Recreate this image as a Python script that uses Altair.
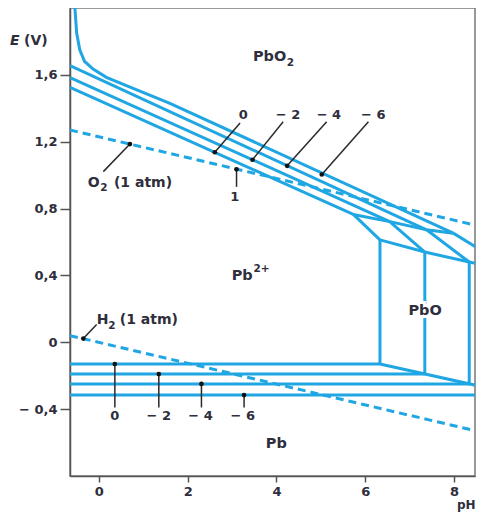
import altair as alt
import pandas as pd

BLUE = "#1fa6e3"
INK = "#2e2e3c"
FONT = "DejaVu Sans"

# ---- solid boundary polylines (pH, E) ----
solid = {
    "pbo2_0":  ([-0.65, 5.73], [1.525, 0.765]),
    "pbo2_m2": ([-0.65, 6.55], [1.584, 0.722]),
    "pbo2_m4": ([-0.65, 7.38], [1.655, 0.673]),
    "pbo2_m6": ([-0.54, -0.50, -0.43, -0.32, -0.13, 0.17, 0.62, 1.60, 7.98],
                [2.00, 1.85, 1.75, 1.68, 1.635, 1.585, 1.536, 1.430, 0.653]),
    "top_edge": ([5.73, 6.55, 7.38, 7.98], [0.765, 0.722, 0.673, 0.653]),
    "diag_0":  ([5.73, 6.33], [0.765, 0.613]),
    "diag_m2": ([6.55, 7.34], [0.722, 0.540]),
    "diag_m4": ([7.38, 8.34], [0.673, 0.480]),
    "diag_m6": ([7.98, 8.65], [0.653, 0.543]),
    "pbo_top": ([6.33, 7.34, 8.34, 8.65], [0.613, 0.540, 0.480, 0.464]),
    "vert_0":  ([6.33, 6.33], [0.613, -0.130]),
    "vert_m2": ([7.34, 7.34], [0.540, -0.190]),
    "vert_m4": ([8.34, 8.34], [0.480, -0.249]),
    "pbo_pb":  ([6.33, 8.65], [-0.130, -0.267]),
    "pb_0":    ([-0.65, 6.33], [-0.130, -0.130]),
    "pb_m2":   ([-0.65, 7.34], [-0.190, -0.190]),
    "pb_m4":   ([-0.65, 8.34], [-0.249, -0.249]),
    "pb_m6":   ([-0.65, 8.65], [-0.316, -0.316]),
}
dashed = {
    "o2": ([-0.65, 8.65], [1.27, 0.69]),
    "h2": ([-0.65, 8.65], [0.04, -0.54]),
}

# ---- pointer lines: dot (pH, E) -> end (pH, E) ----
ptr_ph  = [2.61, 3.46, 4.24, 5.02, 3.10, 0.36, 1.35, 2.31, 3.27, 0.70, -0.35]
ptr_e   = [1.137, 1.092, 1.056, 1.004, 1.035, -0.130, -0.190, -0.249, -0.316, 1.186, 0.022]
ptr_ph2 = [3.18, 4.15, 5.13, 6.07, 3.10, 0.36, 1.35, 2.31, 3.27, 0.10, -0.05]
ptr_e2  = [1.312, 1.319, 1.319, 1.319, 0.930, -0.390, -0.390, -0.390, -0.390, 1.021, 0.106]

# ---- centred number labels ----
num_text = ["0", "− 2", "− 4", "− 6", "1", "0", "− 2", "− 4", "− 6"]
num_ph   = [3.25, 4.26, 5.18, 6.18, 3.06, 0.36, 1.35, 2.29, 3.24]
num_e    = [1.359, 1.359, 1.359, 1.359, 0.872, -0.442, -0.442, -0.442, -0.442]

# ---- left-aligned species labels (main part, sub/superscripts) ----
word_text = ["O", "(1 atm)", "H", "(1 atm)", "PbO", "Pb", "Pb"]
word_ph   = [-0.25, 0.34, -0.05, 0.47, 3.47, 2.99, 3.76]
word_e    = [0.953, 0.953, 0.136, 0.136, 1.706, 0.395, -0.611]
word_fs   = [14, 14, 14, 14, 14.5, 14.5, 14.5]

sub_text = ["2", "2", "2", "2+"]
sub_ph   = [0.03, 0.21, 4.23, 3.48]
sub_e    = [0.922, 0.100, 1.672, 0.436]

pbo_text, pbo_ph, pbo_e = ["PbO"], [6.97], [0.185]


def long_df(d):
    rows = []
    for k, (xs, ys) in d.items():
        for i, (a, b) in enumerate(zip(xs, ys)):
            rows.append({"id": k, "i": i, "pH": a, "E": b})
    return pd.DataFrame(rows)


xs = alt.Scale(domain=[-0.65, 8.47], nice=False, zero=False)
ys = alt.Scale(domain=[-0.8, 2.0], nice=False, zero=False)

xenc = alt.X("pH:Q", scale=xs, axis=alt.Axis(values=[0, 2, 4, 6, 8], title=None,
             tickSize=6, labelPadding=3, labelFontSize=13, labelFontWeight="bold"))
yenc = alt.Y("E:Q", scale=ys, axis=alt.Axis(values=[-0.4, 0, 0.4, 0.8, 1.2, 1.6], title=None,
             tickSize=10, labelPadding=3, labelFontSize=13, labelFontWeight="bold",
             labelExpr="datum.value == 0 ? '0' : (datum.value < 0 ? '− ' : '') + replace(format(abs(datum.value), '.1f'), '.', ',')"))

solid_layer = alt.Chart(long_df(solid)).mark_line(color=BLUE, strokeWidth=3, clip=True).encode(
    x=xenc, y=yenc, detail="id:N", order="i:Q")
dash_layer = alt.Chart(long_df(dashed)).mark_line(color=BLUE, strokeWidth=3, strokeDash=[8, 5], clip=True).encode(
    x="pH:Q", y="E:Q", detail="id:N", order="i:Q")

ptr_df = pd.DataFrame({"pH": ptr_ph, "E": ptr_e, "pH2": ptr_ph2, "E2": ptr_e2})
ptr_layer = alt.Chart(ptr_df).mark_rule(color="#2a2a2a", strokeWidth=1.5).encode(
    x="pH:Q", y="E:Q", x2="pH2:Q", y2="E2:Q")
dot_layer = alt.Chart(ptr_df).mark_circle(color="#111", opacity=1, size=22).encode(x="pH:Q", y="E:Q")

num_df = pd.DataFrame({"t": num_text, "pH": num_ph, "E": num_e})
num_layer = alt.Chart(num_df).mark_text(font=FONT, fontSize=13, fontWeight="bold", color=INK).encode(
    x="pH:Q", y="E:Q", text="t:N")

word_df = pd.DataFrame({"t": word_text, "pH": word_ph, "E": word_e, "fs": word_fs})
word_layer = alt.Chart(word_df).mark_text(font=FONT, fontWeight="bold", color=INK, align="left").encode(
    x="pH:Q", y="E:Q", text="t:N", size=alt.Size("fs:Q", scale=None, legend=None))

sub_df = pd.DataFrame({"t": sub_text, "pH": sub_ph, "E": sub_e})
sub_layer = alt.Chart(sub_df).mark_text(font=FONT, fontSize=10.5, fontWeight="bold", color=INK, align="left").encode(
    x="pH:Q", y="E:Q", text="t:N")

pbo_df = pd.DataFrame({"t": pbo_text, "pH": pbo_ph, "E": pbo_e})
pbo_halo = alt.Chart(pbo_df).mark_text(font=FONT, fontSize=14.5, fontWeight="bold", color="white", align="left",
                                       stroke="white", strokeWidth=6).encode(x="pH:Q", y="E:Q", text="t:N")
pbo_layer = alt.Chart(pbo_df).mark_text(font=FONT, fontSize=14.5, fontWeight="bold", color=INK, align="left").encode(
    x="pH:Q", y="E:Q", text="t:N")

title_df = pd.DataFrame({"t": ["E", "(V)", "pH"]})
e_lab = alt.Chart(title_df).transform_filter("datum.t == 'E'").mark_text(
    font=FONT, fontSize=14, fontWeight="bold", fontStyle="italic", color=INK, align="left").encode(
    x=alt.value(-60), y=alt.value(33), text="t:N")
v_lab = alt.Chart(title_df).transform_filter("datum.t == '(V)'").mark_text(
    font=FONT, fontSize=14, fontWeight="bold", color=INK, align="left").encode(
    x=alt.value(-46), y=alt.value(33), text="t:N")
ph_lab = alt.Chart(title_df).transform_filter("datum.t == 'pH'").mark_text(
    font=FONT, fontSize=12, fontWeight="bold", color=INK, align="left", baseline="bottom").encode(
    x=alt.value(387), y=alt.value(504), text="t:N")

chart = alt.layer(
    solid_layer, dash_layer, ptr_layer, dot_layer, num_layer, word_layer, sub_layer,
    pbo_halo, pbo_layer, e_lab, v_lab, ph_lab
).properties(
    width=405, height=468,
    autosize=alt.AutoSizeParams(type="none"),
    padding={"left": 62, "top": 0, "right": 1, "bottom": 36},
).configure_view(
    stroke="#777", strokeWidth=1.5
).configure_axis(
    grid=False, domainColor="#555", domainWidth=1.5, tickColor="#555", tickWidth=1.5,
    labelColor=INK, labelFont=FONT
)

chart.save("out.html", embed_options={"renderer": "svg", "actions": False})
